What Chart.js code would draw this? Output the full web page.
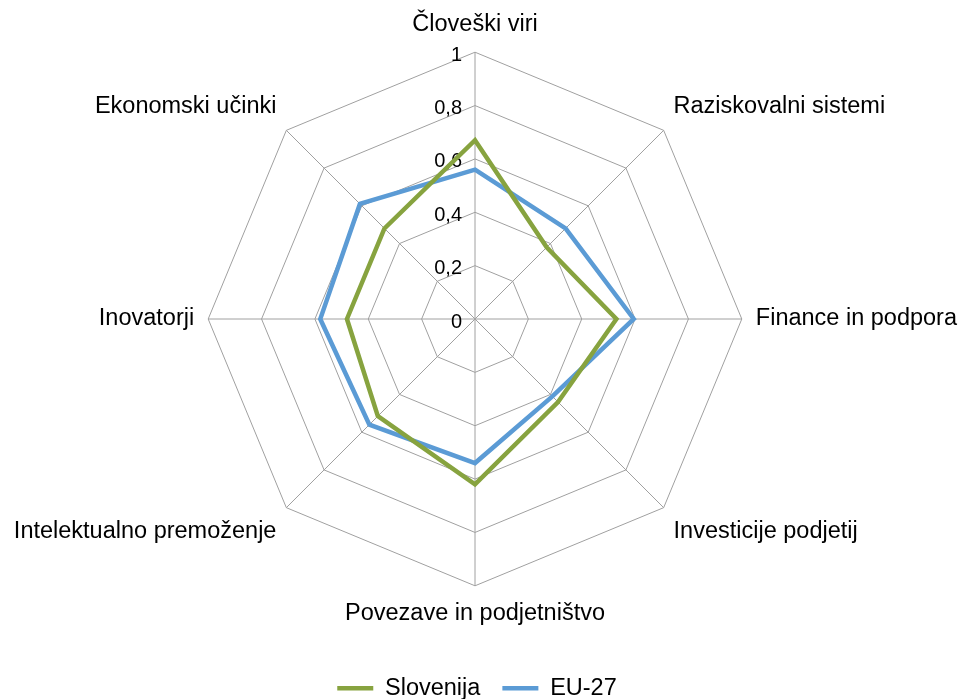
<!DOCTYPE html>
<html>
<head>
<meta charset="utf-8">
<script src="https://cdn.jsdelivr.net/npm/chart.js@4/dist/chart.umd.min.js"></script>
<style>
  html, body { margin: 0; padding: 0; background: #fff; overflow: hidden; }
  /* canvas a bit larger than the window so the radar lands where the original has it */
  #wrap { position: absolute; left: 0; top: -15px; width: 972px; height: 725px; }
</style>
</head>
<body>
<div id="wrap"><canvas id="radar"></canvas></div>
<script>
// categories and values
const categories = ['Človeški viri', 'Raziskovalni sistemi', 'Finance in podpora', 'Investicije podjetij',
  'Povezave in podjetništvo', 'Intelektualno premoženje', 'Inovatorji', 'Ekonomski učinki'];
const slovenija = [0.67, 0.38, 0.53, 0.44, 0.62, 0.515, 0.48, 0.48];
const eu27 = [0.56, 0.48, 0.595, 0.41, 0.54, 0.56, 0.58, 0.61];
const tickValues = [0, 0.2, 0.4, 0.6, 0.8, 1];
const tickLabels = ['0', '0,2', '0,4', '0,6', '0,8', '1'];

const FONT = 'Liberation Sans, Arial, sans-serif';

// tick labels sit left of the vertical axis, like the original
const tickLabelPlugin = {
  id: 'tickLabels',
  beforeDatasetsDraw(chart) {
    const scale = chart.scales.r;
    const ctx = chart.ctx;
    ctx.save();
    ctx.font = '20px ' + FONT;
    ctx.fillStyle = '#000';
    ctx.textAlign = 'right';
    ctx.textBaseline = 'middle';
    tickValues.forEach((v, i) => {
      const d = scale.getDistanceFromCenterForValue(v);
      ctx.fillText(tickLabels[i], scale.xCenter - 13, scale.yCenter - d + 3);
    });
    ctx.restore();
  }
};

// nudge the legend a little left, under the radar like in the original
const legendNudge = {
  id: 'legendNudge',
  afterLayout(chart) {
    chart.legend.left -= 13;
    chart.legend.right -= 13;
  }
};

new Chart(document.getElementById('radar'), {
  type: 'radar',
  data: {
    labels: categories,
    datasets: [{
      label: 'Slovenija',
      data: slovenija,
      borderColor: '#87A33F',
      backgroundColor: '#87A33F',
      borderWidth: 4.5,
      fill: false,
      pointRadius: 0
    }, {
      label: 'EU-27',
      data: eu27,
      borderColor: '#5B9BD5',
      backgroundColor: '#5B9BD5',
      borderWidth: 4.5,
      fill: false,
      pointRadius: 0
    }]
  },
  options: {
    responsive: true,
    maintainAspectRatio: false,
    animation: false,
    layout: { padding: { top: 0, bottom: 0, left: 8, right: 0 } },
    plugins: {
      tooltip: { enabled: false },
      legend: {
        position: 'bottom',
        labels: {
          usePointStyle: true,
          pointStyle: 'line',
          pointStyleWidth: 36,
          boxHeight: 4,
          color: '#000',
          font: { size: 23.5, family: FONT },
          padding: 22
        }
      }
    },
    scales: {
      r: {
        min: 0,
        max: 1,
        ticks: { stepSize: 0.2, display: false },
        grid: { color: '#a0a0a0', lineWidth: 1 },
        angleLines: { color: '#a0a0a0', lineWidth: 1 },
        pointLabels: {
          color: '#000',
          font: { size: 23.5, family: FONT },
          padding: 14
        }
      }
    }
  },
  plugins: [tickLabelPlugin, legendNudge]
});
</script>
</body>
</html>
